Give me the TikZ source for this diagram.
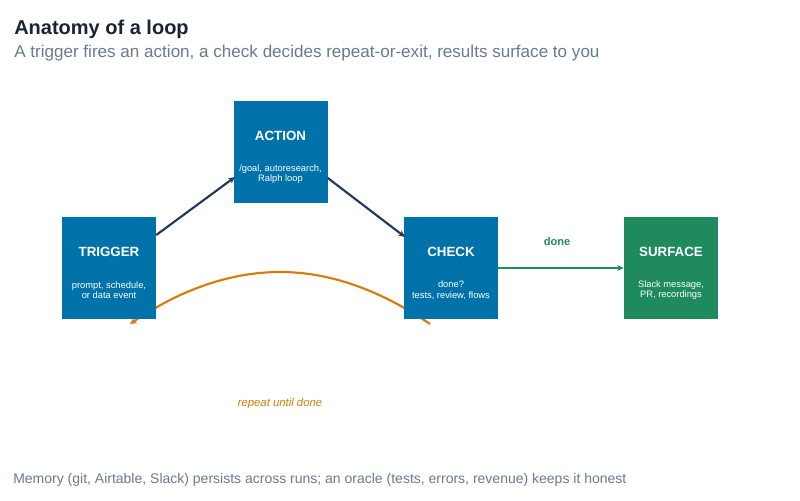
\documentclass[tikz,border=0pt]{standalone}
\usepackage{fontspec}
\setmainfont{Liberation Sans}
\usetikzlibrary{arrows.meta}
\definecolor{boxblue}{HTML}{0072AA}
\definecolor{boxgreen}{HTML}{1E8A5E}
\definecolor{navy}{HTML}{1F3A5A}
\definecolor{orng}{HTML}{D97A0A}
\definecolor{titlec}{HTML}{1C2433}
\definecolor{subc}{HTML}{6B7A90}
\begin{document}
\begin{tikzpicture}[x=0.75pt,y=-0.75pt,
  box/.style={draw=none,minimum width=70.5pt,minimum height=76.5pt,inner sep=0pt},
  head/.style={text=white,font=\bfseries\fontsize{10}{11}\selectfont},
  sub/.style={text=white,font=\fontsize{7}{8}\selectfont,align=center},
  conn/.style={draw=navy,line width=1.6pt,-{Stealth[length=5pt,width=4.5pt]}}]
\useasboundingbox (0,0) rectangle (800,500);
\fill[white] (0,0) rectangle (800,500);
\node[anchor=base west,inner sep=0pt,text=titlec,font=\bfseries\fontsize{15}{18}\selectfont] (title) at (14,34) {Anatomy of a loop};
\node[anchor=base west,inner sep=0pt,text=subc,font=\fontsize{12.8}{15}\selectfont] (subtitle) at (14,57) {A trigger fires an action, a check decides repeat-or-exit, results surface to you};
\coordinate (rs) at (430,324);
\coordinate (re) at (130,324);
\draw[orng,line width=1.6pt,-{Stealth[length=5pt,width=5pt]}] (rs) .. controls (380,290) and (330,272) .. (280,272) .. controls (230,272) and (180,290) .. (re);
\node[box,fill=boxblue] (trigger) at (109,268) {};
\node[box,fill=boxblue] (action) at (280.5,152) {};
\node[box,fill=boxblue] (check) at (451,268) {};
\node[box,fill=boxgreen] (surface) at (671,268) {};
\node[head] (t1) at (109,252) {TRIGGER};
\node[sub] (t2) at (109,290) {prompt, schedule,\\or data event};
\node[head] (a1) at (280.5,136) {ACTION};
\node[sub] (a2) at (280.5,174) {/goal, autoresearch,\\Ralph loop};
\node[head] (c1) at (451,252) {CHECK};
\node[sub] (c2) at (451,290) {done?\\tests, review, flows};
\node[head] (s1) at (671,252) {SURFACE};
\node[sub] (s2) at (671,290) {Slack message,\\PR, recordings};
\draw[conn] (trigger.east|-0,235) -- (235,177);
\draw[conn] (action.east|-0,178) -- (405,237);
\draw[draw=boxgreen,line width=1.6pt,-{Stealth[length=5pt,width=4.5pt]}] (check.east) -- (surface.west);
\node[text=boxgreen,font=\bfseries\fontsize{8.3}{9}\selectfont] (done) at (557,242) {done};
\node[text=orng,font=\itshape\fontsize{8.5}{9}\selectfont] (rep) at (280,404) {repeat until done};
\node[anchor=base west,inner sep=0pt,text=subc,font=\fontsize{10.5}{12}\selectfont] (foot) at (13,483) {Memory (git, Airtable, Slack) persists across runs; an oracle (tests, errors, revenue) keeps it honest};
\end{tikzpicture}
\end{document}
